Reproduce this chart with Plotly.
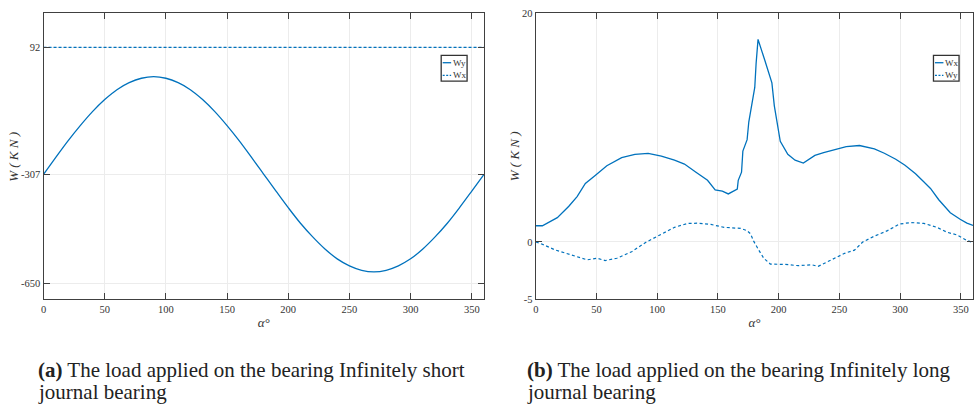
import plotly.graph_objects as go

# ---------------- data ----------------
# (a) infinitely short bearing
alpha_a = [0, 10, 20, 30, 40, 50, 60, 70, 80, 90, 100, 110, 120, 130, 140, 150, 160, 170, 180,
           190, 200, 210, 220, 230, 240, 250, 260, 270, 280, 290, 300, 310, 320, 330, 340, 350, 360]
wy_a = [-307, -254, -202, -154, -110, -72, -41, -19, -5, 0, -5, -19, -41, -72, -110, -154, -202, -254, -307,
        -360, -412, -461, -504, -542, -573, -595, -609, -614, -609, -595, -573, -542, -504, -461, -412, -360, -307]
alpha_wx_a = [0, 360]
wx_a = [92, 92]

# (b) infinitely long bearing
alpha_wx_b = [0, 5.4, 17.7, 27.2, 34, 40.8, 48.9, 58.5, 70.7, 81.6, 92.5, 103.4, 114.2, 122.4, 131.9,
              141.4, 147.7, 153.6, 158.5, 165.9, 166.7, 169.4, 170.5, 174, 175.4, 177.6, 180.3, 181.4, 183,
              188.5, 194.4, 196.4, 199.9, 201.3, 207.5, 213.5, 220.3, 229.8, 237, 246, 255.6, 266.5, 278.8,
              287, 296.4, 304, 312.7, 319, 325, 331.8, 341.3, 349.4, 355, 360]
wx_b = [1.42, 1.42, 2.13, 3.12, 3.97, 5.11, 5.81, 6.66, 7.37, 7.66, 7.74, 7.51, 7.15, 6.81, 6.10,
        5.39, 4.54, 4.45, 4.20, 4.62, 5.39, 6.10, 7.94, 8.94, 10.5, 12.0, 13.5, 15.6, 17.7,
        15.9, 13.9, 11.9, 9.93, 8.79, 7.66, 7.15, 6.89, 7.57, 7.80, 8.08, 8.34, 8.43, 8.14,
        7.75, 7.23, 6.70, 5.96, 5.30, 4.68, 3.69, 2.55, 1.98, 1.65, 1.45]
alpha_wy_b = [0, 4.1, 16.3, 27.2, 42.2, 50.3, 57.1, 66.7, 78.9, 91.1, 102, 114.2, 125.1, 133.2, 144.2,
              155, 168.6, 174, 176.8, 179.5, 183.6, 187.7, 193.1, 205.4, 216.2, 227.1, 232.5, 243.4,
              254.3, 262.4, 269.2, 278.8, 289.6, 299.2, 308.7, 319.6, 330.4, 338.6, 346.7, 354.9, 360]
wy_b = [0, -0.14, -0.71, -1.08, -1.56, -1.42, -1.62, -1.42, -0.85, 0, 0.57, 1.28, 1.62, 1.64, 1.53,
        1.28, 1.19, 0.99, 0.71, 0.05, -0.71, -1.42, -1.93, -1.96, -2.07, -1.99, -2.13, -1.56,
        -0.99, -0.71, 0.0, 0.51, 0.99, 1.56, 1.70, 1.62, 1.28, 0.85, 0.62, 0.14, -0.05]

x_ticks = [0, 50, 100, 150, 200, 250, 300, 350]
y_ticks_a = [-650, -307, 92]
y_ticklabels_a = ["-650", "-307", "92"]
y_ticks_b = [-5, 0, 20]
y_ticklabels_b = ["-5", "0", "20"]

legend_a = ["Wy", "Wx"]
legend_b = ["Wx", "Wy"]
caption_a = ["<b>(a)</b> The load applied on the bearing Infinitely short", "journal bearing"]
caption_b = ["<b>(b)</b> The load applied on the bearing Infinitely long", "journal bearing"]
y_title = "<i>W ( K N )</i>"

# ---------------- styling ----------------
BLUE = "#0072BD"
AX = "#404040"
GRID = "#ececec"
FONT = "Liberation Serif"
W, H = 974, 411

fig = go.Figure()
fig.add_trace(go.Scatter(x=alpha_a, y=wy_a, mode="lines", line=dict(color=BLUE, width=1.3, shape="spline"),
                         xaxis="x", yaxis="y", showlegend=False))
fig.add_trace(go.Scatter(x=alpha_wx_a, y=wx_a, mode="lines", line=dict(color=BLUE, width=1.2, dash="3px,2px"),
                         xaxis="x", yaxis="y", showlegend=False))
fig.add_trace(go.Scatter(x=alpha_wx_b, y=wx_b, mode="lines", line=dict(color=BLUE, width=1.3),
                         xaxis="x2", yaxis="y2", showlegend=False))
fig.add_trace(go.Scatter(x=alpha_wy_b, y=wy_b, mode="lines", line=dict(color=BLUE, width=1.2, dash="3px,2.5px"),
                         xaxis="x2", yaxis="y2", showlegend=False))

top_px, bot_px = 8.3, 302.3
ydom = [1 - bot_px / H, 1 - top_px / H]


def xax(domain, anchor):
    return dict(domain=domain, anchor=anchor, range=[0, 360], tickvals=x_ticks,
                showline=True, linecolor=AX, linewidth=1.2, mirror="ticks",
                ticks="inside", ticklen=6, tickcolor=AX, tickwidth=1,
                showgrid=True, gridcolor=GRID, gridwidth=1, zeroline=False,
                tickfont=dict(family=FONT, size=10.5, color="#333"),
                title=dict(text="<i>α°</i>", font=dict(family=FONT, size=13, color="#333"), standoff=3))


def yax(domain, anchor, rng, ticks, labels):
    return dict(domain=domain, anchor=anchor, range=rng, tickvals=ticks, ticktext=labels,
                showline=True, linecolor=AX, linewidth=1.2, mirror="ticks",
                ticks="inside", ticklen=6, tickcolor=AX, tickwidth=1,
                showgrid=True, gridcolor=GRID, gridwidth=1, zeroline=False,
                tickfont=dict(family=FONT, size=10.5, color="#333"))


fig.update_layout(
    width=W, height=H,
    margin=dict(l=0, r=0, t=0, b=0),
    paper_bgcolor="white", plot_bgcolor="white",
    xaxis=xax([40.7 / W, 483 / W], "y"),
    yaxis=yax(ydom, "x", [-700, 200], y_ticks_a, y_ticklabels_a),
    xaxis2=xax([535 / W, 1.0], "y2"),
    yaxis2=yax(ydom, "x2", [-5, 20], y_ticks_b, y_ticklabels_b),
)

# ---------------- legends (drawn as paper shapes) ----------------
shapes = []
annotations = []


def add_legend(x0, x1, y0, y1, labels, dashes):
    shapes.append(dict(type="rect", xref="paper", yref="paper", x0=x0 / W, x1=x1 / W,
                       y0=1 - y1 / H, y1=1 - y0 / H, line=dict(color="#333", width=1.3), fillcolor="white"))
    rows = [y0 + 7.6, y0 + 20.6]
    for lab, dsh, ry in zip(labels, dashes, rows):
        shapes.append(dict(type="line", xref="paper", yref="paper", x0=(x0 + 1.5) / W, x1=(x0 + 10) / W,
                           y0=1 - ry / H, y1=1 - ry / H,
                           line=dict(color=BLUE, width=1.3, dash=dsh)))
        annotations.append(dict(text=lab, xref="paper", yref="paper", x=(x0 + 9.5) / W, y=1 - ry / H,
                                xanchor="left", yanchor="middle", showarrow=False,
                                font=dict(family=FONT, size=9, color="#333")))


add_legend(440, 466, 51.7, 78.3, legend_a, ["solid", "2px,1.5px"])
add_legend(934.3, 960, 51.7, 78.3, legend_b, ["solid", "2px,1.5px"])

# ---------------- y-axis titles ----------------
for xc in (10.5, 513):
    annotations.append(dict(text=y_title, xref="paper", yref="paper", x=xc / W, y=1 - 155.5 / H,
                            xanchor="center", yanchor="middle", textangle=-90, showarrow=False,
                            font=dict(family=FONT, size=13, color="#333")))

# ---------------- captions ----------------
for cap, x0 in ((caption_a, 33), (caption_b, 524)):
    for line, yc in zip(cap, (375, 398)):
        annotations.append(dict(text=line, xref="paper", yref="paper", x=x0 / W, y=1 - yc / H,
                                xanchor="left", yanchor="middle", showarrow=False,
                                font=dict(family=FONT, size=21, color="#222")))

fig.update_layout(shapes=shapes, annotations=annotations)
fig.write_html("out.html")
